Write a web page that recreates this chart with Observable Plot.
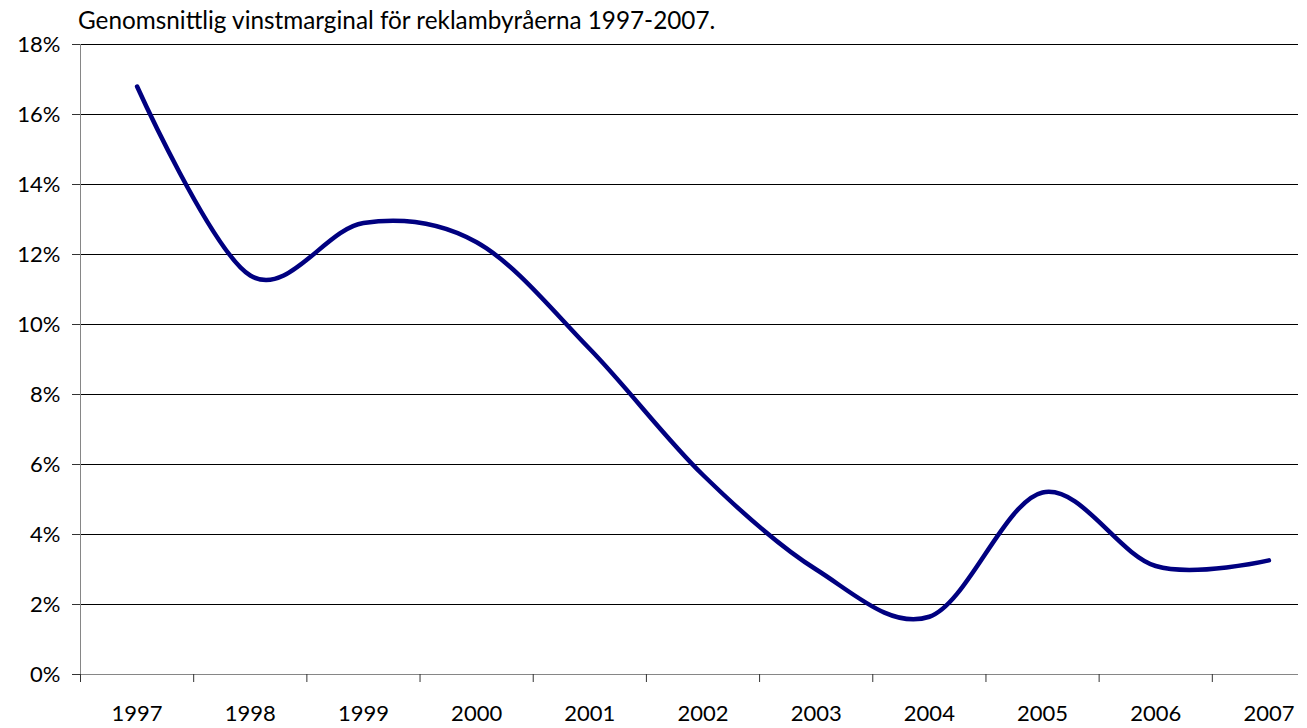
<!DOCTYPE html>
<html>
<head>
<meta charset="utf-8">
<script src="https://cdn.jsdelivr.net/npm/d3@7"></script>
<script src="https://cdn.jsdelivr.net/npm/@observablehq/plot@0.6"></script>
<style>
  html, body { margin: 0; padding: 0; background: #fff; }
  #wrap { position: relative; width: 1307px; height: 728px; }
  #title {
    position: absolute;
    left: 78px;
    top: 5px;
    line-height: 30px;
    font-family: Lato, sans-serif;
    font-size: 24.3px;
    color: #000;
    white-space: nowrap;
  }
  #chart svg { display: block; }
</style>
</head>
<body>
<div id="wrap">
<div id="chart"></div>
<div id="title">Genomsnittlig vinstmarginal för reklambyråerna 1997-2007.</div>
</div>
<script>
// Years (categories)
const years = [1997, 1998, 1999, 2000, 2001, 2002, 2003, 2004, 2005, 2006, 2007];
// Average profit margin (fraction)
const margins = [0.168, 0.114, 0.129, 0.1235, 0.093, 0.057, 0.030, 0.0165, 0.052, 0.031, 0.0326];
// Y tick values
const yTicks = [0, 0.02, 0.04, 0.06, 0.08, 0.10, 0.12, 0.14, 0.16, 0.18];
// Category boundaries (tick marks between years)
const boundaries = [1996.5, 1997.5, 1998.5, 1999.5, 2000.5, 2001.5, 2002.5, 2003.5, 2004.5, 2005.5, 2006.5, 2007.5];

const data = years.map((year, i) => ({year, value: margins[i]}));
const fmt = d3.format(".0%");

const chart = Plot.plot({
  width: 1307,
  height: 728,
  marginTop: 44,
  marginBottom: 54,
  marginLeft: 80,
  marginRight: 9,
  style: {fontFamily: "Lato, sans-serif", fontSize: "22px", color: "#000", background: "#fff"},
  x: {type: "linear", domain: [1996.5, 2007.5], range: [80, 1325]},
  y: {domain: [0, 0.18]},
  marks: [
    Plot.ruleY(yTicks.filter(d => d > 0), {stroke: "#000", strokeWidth: 1}),
    Plot.ruleY([0], {stroke: "#868686", strokeWidth: 1}),
    Plot.ruleX([boundaries[0]], {y1: 0, y2: 0.18, stroke: "#868686", strokeWidth: 1}),
    Plot.axisY({ticks: yTicks, tickFormat: fmt, tickSize: 8, tickPadding: 12, stroke: "#333", fontSize: 22, label: null}),
    Plot.axisX({ticks: boundaries, tickFormat: () => "", tickSize: 8, stroke: "#333", label: null}),
    Plot.axisX({ticks: years, tickFormat: d => String(d), tickSize: 0, tickPadding: 31, fontSize: 22, label: null}),
    Plot.line(data, {x: "year", y: "value", curve: "cardinal", tension: 0, stroke: "#000080", strokeWidth: 4.5, strokeLinecap: "round", strokeLinejoin: "round"})
  ]
});
document.getElementById("chart").appendChild(chart);
</script>
</body>
</html>
